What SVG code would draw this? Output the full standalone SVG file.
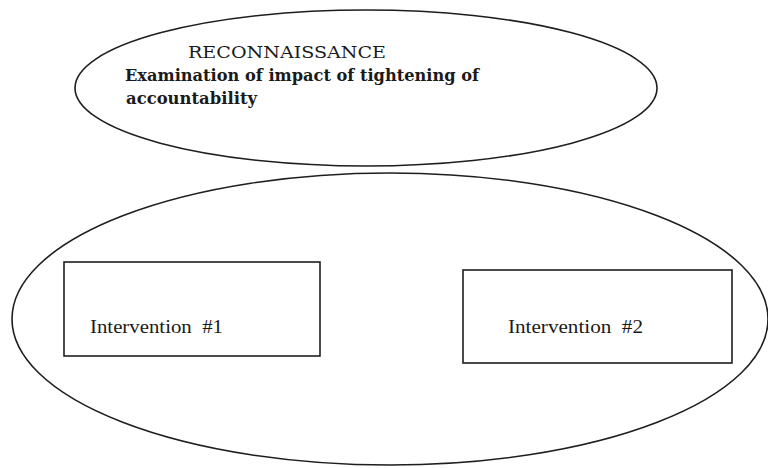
<svg xmlns="http://www.w3.org/2000/svg" width="768" height="468" viewBox="0 0 768 468">
  <style>
    .outline { fill: none; stroke: #1e1e1e; stroke-width: 1.6; }
    .box { fill: none; stroke: #1e1e1e; stroke-width: 1.6; }
    .title { font-family: "DejaVu Serif", "Liberation Serif", serif; font-size: 16px; fill: #1a1a1a; }
    .sub { font-family: "DejaVu Serif", "Liberation Serif", serif; font-size: 16px; font-weight: bold; fill: #1a1a1a; }
    .label { font-family: "Liberation Serif", "Times New Roman", serif; font-size: 18px; fill: #1a1a1a; }
  </style>
  <rect width="768" height="468" fill="#ffffff"/>

  <!-- Reconnaissance phase -->
  <g id="reconnaissance">
    <ellipse class="outline" cx="366" cy="88" rx="291" ry="78"/>
    <text class="title" x="188" y="58" textLength="198" lengthAdjust="spacingAndGlyphs">RECONNAISSANCE</text>
    <text class="sub" x="125" y="81" textLength="354" lengthAdjust="spacingAndGlyphs">Examination of impact of tightening of</text>
    <text class="sub" x="126" y="104" textLength="131" lengthAdjust="spacingAndGlyphs">accountability</text>
  </g>

  <!-- Interventions phase -->
  <g id="interventions">
    <ellipse class="outline" cx="390" cy="319" rx="378" ry="146"/>
  </g>

  <g id="intervention1">
    <rect class="box" x="64" y="262" width="256" height="94"/>
    <text class="label" x="90" y="333" textLength="133" lengthAdjust="spacingAndGlyphs" xml:space="preserve">Intervention  #1</text>
  </g>

  <g id="intervention2">
    <rect class="box" x="463" y="270" width="269" height="93"/>
    <text class="label" x="508" y="333" textLength="135" lengthAdjust="spacingAndGlyphs" xml:space="preserve">Intervention  #2</text>
  </g>

  <g id="connectors"/>
</svg>
